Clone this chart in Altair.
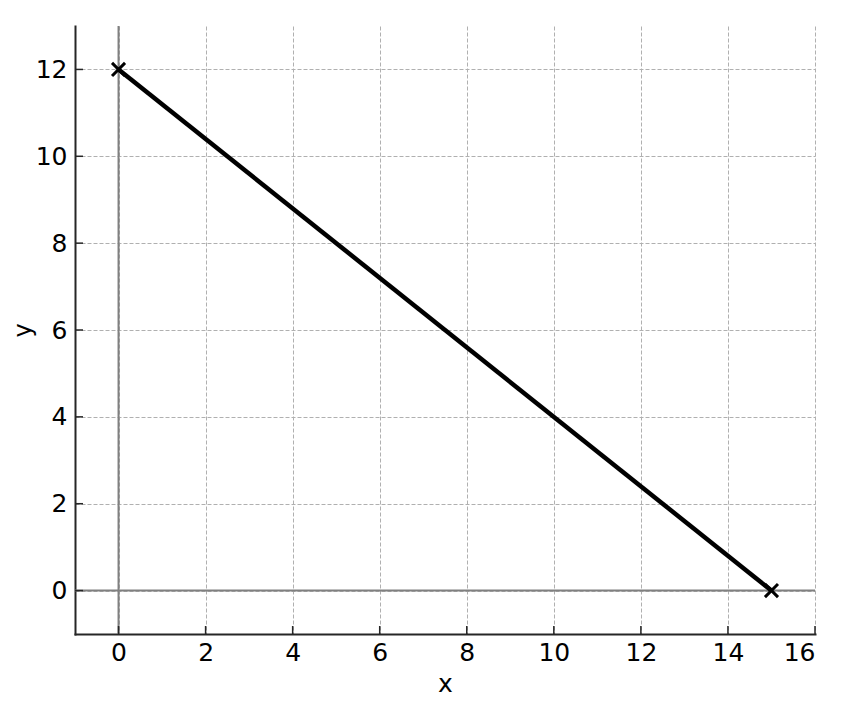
import altair as alt
import pandas as pd

line_x = [0, 15]
line_y = [12, 0]
x_ticks = [0, 2, 4, 6, 8, 10, 12, 14, 16]
y_ticks = [0, 2, 4, 6, 8, 10, 12]

W, H = 740, 608
FONT = "DejaVu Sans"
FS = 25

line_df = pd.DataFrame({"x": line_x, "y": line_y})
xt_df = pd.DataFrame({"x": x_ticks})
yt_df = pd.DataFrame({"y": y_ticks})
zero_df = pd.DataFrame({"v": [0]})

xs = alt.Scale(domain=[-1, 16], nice=False, zero=False)
ys = alt.Scale(domain=[-1, 13], nice=False, zero=False)

xax = alt.Axis(values=x_ticks, title="x", grid=True, gridDash=[4, 2], gridColor="#b0b0b0",
               gridWidth=1, ticks=False, domainColor="#262626", domainWidth=2,
               labelFont=FONT, labelFontSize=FS, labelColor="#000", labelPadding=6,
               titleFont=FONT, titleFontSize=FS, titleFontWeight="normal", titleColor="#000",
               titlePadding=6)
yax = alt.Axis(values=y_ticks, title="y", grid=True, gridDash=[4, 2], gridColor="#b0b0b0",
               gridWidth=1, ticks=False, domainColor="#262626", domainWidth=2,
               labelFont=FONT, labelFontSize=FS, labelColor="#000", labelPadding=8,
               titleFont=FONT, titleFontSize=24, titleFontWeight="normal", titleColor="#000",
               titlePadding=0)

base = alt.Chart(line_df).mark_line(color="black", strokeWidth=4.5).encode(
    x=alt.X("x:Q", scale=xs, axis=xax),
    y=alt.Y("y:Q", scale=ys, axis=yax),
)

vzero = alt.Chart(zero_df).mark_rule(color="#808080", strokeWidth=2).encode(
    x=alt.X("v:Q", scale=xs), y=alt.value(0), y2=alt.value(H))
hzero = alt.Chart(zero_df).mark_rule(color="#808080", strokeWidth=2).encode(
    y=alt.Y("v:Q", scale=ys), x=alt.value(0), x2=alt.value(W))

xticks = alt.Chart(xt_df).mark_rule(color="#262626", strokeWidth=1.5).encode(
    x=alt.X("x:Q", scale=xs), y=alt.value(H), y2=alt.value(H - 8))
yticks = alt.Chart(yt_df).mark_rule(color="#262626", strokeWidth=1.5).encode(
    y=alt.Y("y:Q", scale=ys), x=alt.value(0), x2=alt.value(8))

pts = alt.Chart(line_df).mark_point(
    shape="M -1 -1 L 1 1 M -1 1 L 1 -1", filled=False, color="black",
    strokeWidth=3, size=170, opacity=1).encode(
    x=alt.X("x:Q", scale=xs), y=alt.Y("y:Q", scale=ys))

chart = alt.layer(vzero, hzero, base, pts, xticks, yticks).properties(
    width=W, height=H,
    autosize=alt.AutoSizeParams(type="none"),
    padding={"left": 67, "top": 18, "right": 20, "bottom": 72},
).configure_view(stroke=None).configure_axis(domainCap="square")

chart.save("out.html", embed_options={"renderer": "svg", "actions": False})
